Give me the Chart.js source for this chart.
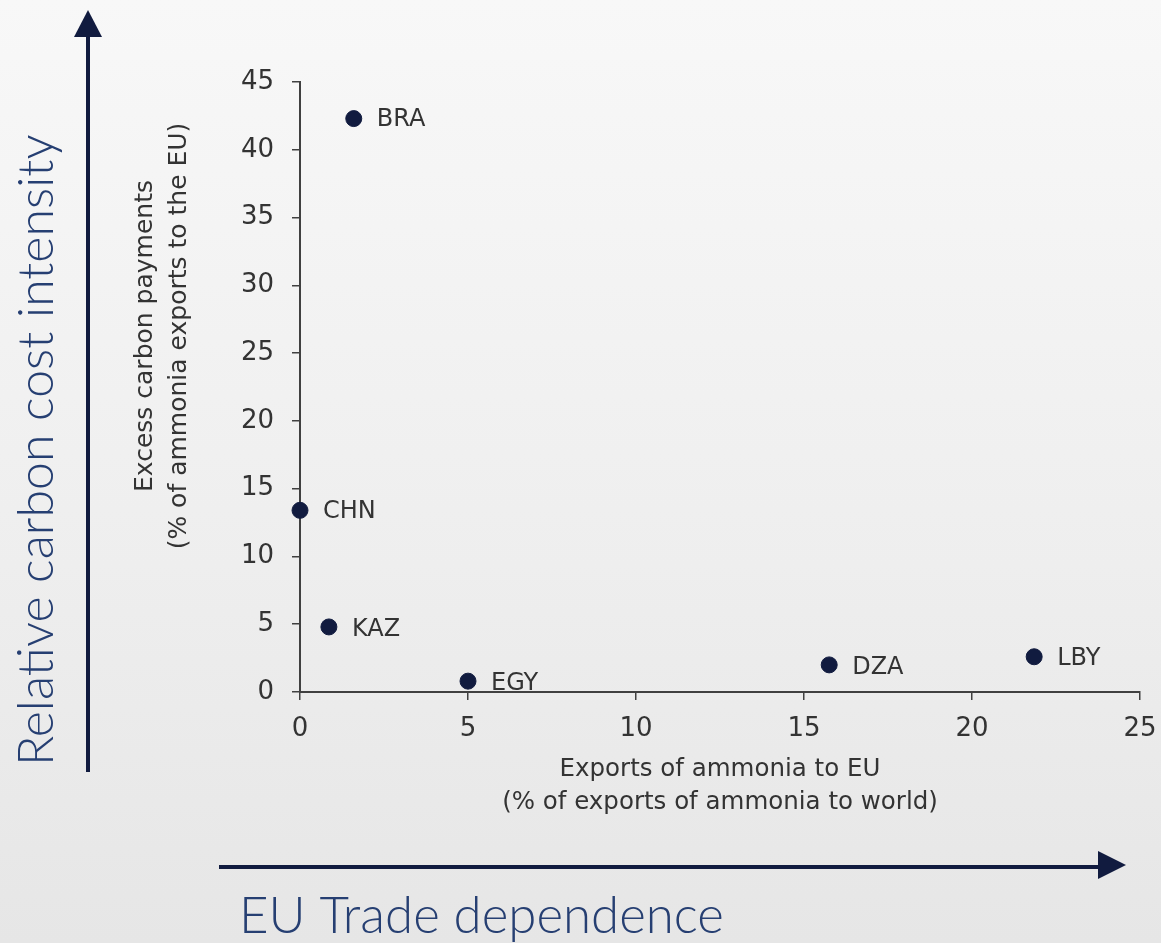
<!DOCTYPE html>
<html>
<head>
<meta charset="utf-8">
<script src="https://cdn.jsdelivr.net/npm/chart.js@4.4.1/dist/chart.umd.min.js"></script>
<style>
  html, body { margin: 0; padding: 0; }
  body {
    width: 1161px; height: 943px; overflow: hidden;
    background: linear-gradient(to bottom, #f8f8f8 0%, #eeeeee 60%, #e6e6e6 100%);
  }
  #wrap { position: relative; width: 1161px; height: 943px; }
</style>
</head>
<body>
<div id="wrap"><canvas id="chart" width="1161" height="943"></canvas></div>
<script>
// Country codes and their position on the two axes
const countries = ['BRA', 'CHN', 'KAZ', 'EGY', 'DZA', 'LBY'];
const euShare = [1.6, 0.0, 0.86, 5.0, 15.75, 21.85];        // % of ammonia exports going to the EU
const carbonPayments = [42.3, 13.4, 4.8, 0.8, 2.0, 2.6];     // % of ammonia exports to the EU
// Vertical nudge of each country label (px)
const labelNudge = [1, 1, 3, 3, 3, 2];

const xTicks = [0, 5, 10, 15, 20, 25];
const yTicks = [0, 5, 10, 15, 20, 25, 30, 35, 40, 45];

const navy = '#111b3f';
const axisGrey = '#404040';
const textGrey = '#333333';
const annotBlue = '#263f72';
const sans = '"DejaVu Sans", "Liberation Sans", Arial, sans-serif';

// Labels next to each point, big direction arrows and the rotated axis titles
const decorations = {
  id: 'decorations',
  afterDatasetsDraw(chart) {
    const ctx = chart.ctx;
    const meta = chart.getDatasetMeta(0);
    ctx.save();
    ctx.fillStyle = textGrey;
    ctx.font = '24px ' + sans;
    ctx.textAlign = 'left';
    ctx.textBaseline = 'middle';
    meta.data.forEach((pt, i) => {
      ctx.fillText(countries[i], pt.x + 23, pt.y + labelNudge[i]);
    });
    ctx.restore();
  },
  afterDraw(chart) {
    const ctx = chart.ctx;
    ctx.save();

    // vertical y-axis title
    ctx.fillStyle = textGrey;
    ctx.font = '25px ' + sans;
    ctx.textAlign = 'center';
    ctx.textBaseline = 'middle';
    ctx.translate(145, 336);
    ctx.rotate(-Math.PI / 2);
    ctx.fillText('Excess carbon payments', 0, 0);
    ctx.fillText('(% of ammonia exports to the EU)', 0, 34);
    ctx.restore();

    // upward arrow
    ctx.save();
    ctx.strokeStyle = navy;
    ctx.fillStyle = navy;
    ctx.lineWidth = 4;
    ctx.beginPath();
    ctx.moveTo(88, 772);
    ctx.lineTo(88, 34);
    ctx.stroke();
    ctx.beginPath();
    ctx.moveTo(88, 10);
    ctx.lineTo(102, 37);
    ctx.lineTo(74, 37);
    ctx.closePath();
    ctx.fill();

    // rightward arrow
    ctx.beginPath();
    ctx.moveTo(219, 867);
    ctx.lineTo(1102, 867);
    ctx.stroke();
    ctx.beginPath();
    ctx.moveTo(1126, 865);
    ctx.lineTo(1098, 851);
    ctx.lineTo(1098, 879);
    ctx.closePath();
    ctx.fill();

    // direction captions
    ctx.fillStyle = annotBlue;
    ctx.font = '300 51px Lato, "Open Sans", sans-serif';
    ctx.textAlign = 'left';
    ctx.textBaseline = 'alphabetic';
    ctx.fillText('EU Trade dependence', 239, 933);

    ctx.font = '300 50px Lato, "Open Sans", sans-serif';
    ctx.translate(53, 766);
    ctx.rotate(-Math.PI / 2);
    ctx.fillText('Relative carbon cost intensity', 0, 0);
    ctx.restore();
  }
};

new Chart(document.getElementById('chart'), {
  type: 'scatter',
  data: {
    datasets: [{
      data: euShare.map((x, i) => ({ x, y: carbonPayments[i] })),
      backgroundColor: navy,
      borderColor: navy,
      pointRadius: 8,
      pointHoverRadius: 8,
      clip: false
    }]
  },
  options: {
    responsive: false,
    animation: false,
    layout: { padding: { top: 82, right: 21, bottom: 123.5, left: 0 } },
    plugins: { legend: { display: false }, tooltip: { enabled: false } },
    scales: {
      x: {
        type: 'linear',
        min: 0, max: 25,
        afterBuildTicks(scale) { scale.ticks = xTicks.map(v => ({ value: v })); },
        afterFit(scale) {
          scale.height = 127.5;
          scale.paddingLeft = 0;
          scale.paddingRight = 0;
        },
        grid: { drawOnChartArea: false, drawTicks: true, tickLength: 8, color: axisGrey, lineWidth: 1.5 },
        border: { color: axisGrey, width: 2 },
        ticks: { color: textGrey, font: { family: sans, size: 26 }, padding: 14 },
        title: {
          display: true,
          text: ['Exports of ammonia to EU', '(% of exports of ammonia to world)'],
          color: textGrey,
          font: { family: sans, size: 24.5, lineHeight: 1.35 },
          padding: 0
        }
      },
      y: {
        type: 'linear',
        min: 0, max: 45,
        afterBuildTicks(scale) { scale.ticks = yTicks.map(v => ({ value: v })); },
        afterFit(scale) {
          scale.width = 300;
          scale.paddingTop = 0;
          scale.paddingBottom = 0;
        },
        grid: { drawOnChartArea: false, drawTicks: true, tickLength: 8, color: axisGrey, lineWidth: 1.5 },
        border: { color: axisGrey, width: 2 },
        ticks: { color: textGrey, font: { family: sans, size: 26 }, padding: 18 }
      }
    }
  },
  plugins: [decorations]
});
</script>
</body>
</html>
